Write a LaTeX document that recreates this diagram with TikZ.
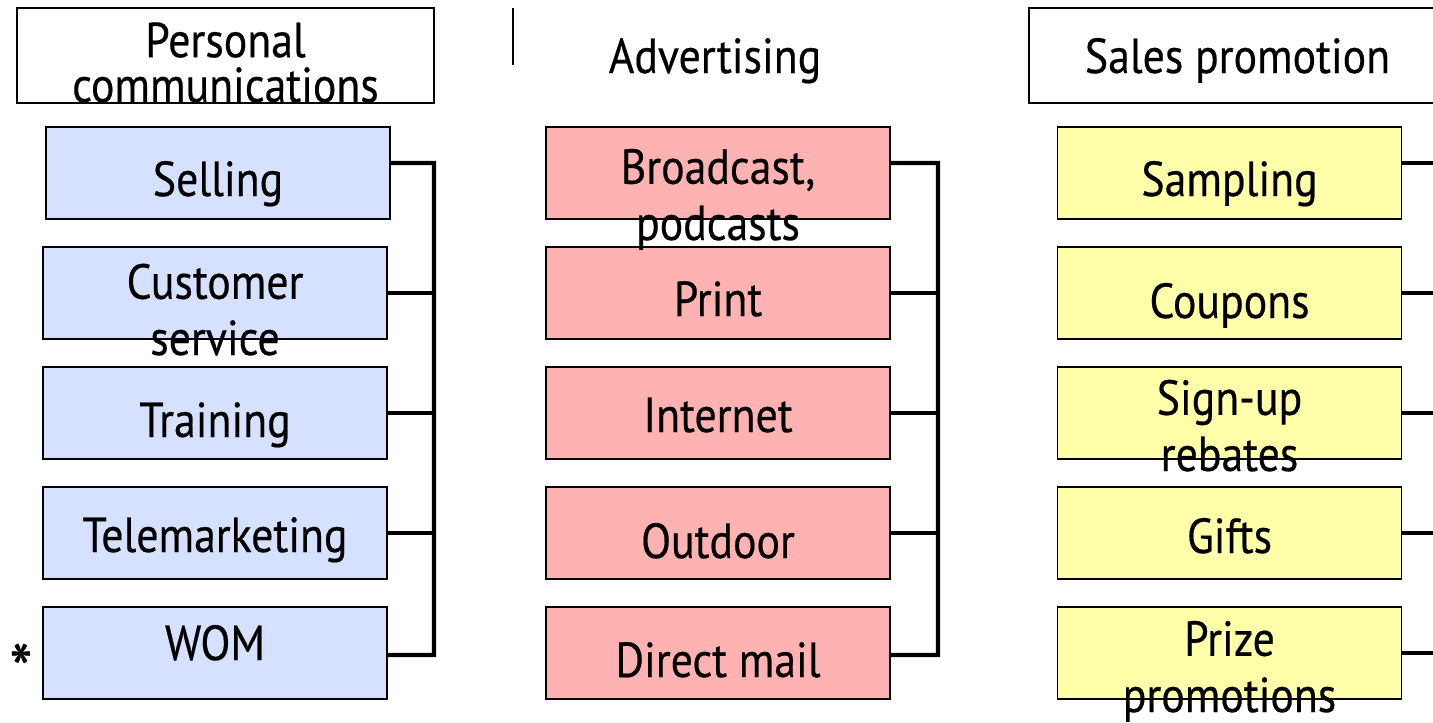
\documentclass[tikz,border=0pt]{standalone}
\usepackage{fontspec}
\setmainfont{PT Sans}[FakeStretch=0.89, FakeBold=0.4]
\usetikzlibrary{positioning}
\definecolor{pcblue}{RGB}{214,224,255}
\definecolor{adpink}{RGB}{255,178,178}
\definecolor{spyellow}{RGB}{255,255,170}

\begin{document}
\begin{tikzpicture}[node distance=2.4cm, on grid]

	\tikzset{
		hbox/.style = {rectangle, draw, line width=1pt, minimum width=8.34cm,
			minimum height=1.9cm, inner sep=0pt},
		tbox/.style = {rectangle, draw, line width=1pt, minimum width=6.88cm,
			minimum height=1.84cm, inner sep=0pt},
		ttext/.style = {font=\fontsize{28}{32}\selectfont, align=center,
			inner sep=0pt, anchor=base},
		link/.style = {line width=2.4pt}
	}

	\useasboundingbox (0,0) rectangle (28.66,-14.46);

	% headers
	\node[hbox] (pc) at (4.51,-1.11) {};
	\node[ttext, font=\fontsize{28}{25.5}\selectfont, yshift=-0.93cm] (pc-t) at (pc) {Personal\\communications};
	\coordinate (sep-top) at (10.26,-0.16);
	\coordinate (sep-bot) at (10.26,-1.30);
	\draw[line width=1pt] (sep-top) -- (sep-bot);
	\node[ttext] (ad-t) at (14.30,-1.46) {Advertising};
	\node[hbox] (sp) at (24.75,-1.11) {};
	\node[ttext] (sp-t) at (24.75,-1.46) {Sales promotion};

	% personal communications
	\node[tbox, fill=pcblue] (sell) at (4.36,-3.46) {};
	\node[tbox, fill=pcblue] (cust) [below = of sell, xshift=-0.06cm] {};
	\node[tbox, fill=pcblue] (train) [below = of cust] {};
	\node[tbox, fill=pcblue] (tele) [below = of train] {};
	\node[tbox, fill=pcblue] (wom) [below = of tele] {};
	\node[ttext, yshift=-0.46cm] (sell-t) at (sell) {Selling};
	\node[ttext, yshift=-1.24cm] (cust-t) at (cust) {Customer\\service};
	\node[ttext, yshift=-0.48cm] (train-t) at (train) {Training};
	\node[ttext, yshift=-0.38cm] (tele-t) at (tele) {Telemarketing};
	\node[ttext, yshift=-0.14cm] (wom-t) at (wom) {WOM};
	\node[ttext, anchor=center, font=\fontsize{42}{42}\selectfont] (star) at (0.42,-13.40) {*};

	% advertising
	\node[tbox, fill=adpink] (bcast) at (14.36,-3.46) {};
	\node[tbox, fill=adpink] (print) [below = of bcast] {};
	\node[tbox, fill=adpink] (inet) [below = of print] {};
	\node[tbox, fill=adpink] (outd) [below = of inet] {};
	\node[tbox, fill=adpink] (dmail) [below = of outd] {};
	\node[ttext, yshift=-1.34cm] (bcast-t) at (bcast) {Broadcast,\\podcasts};
	\node[ttext, yshift=-0.46cm] (print-t) at (print) {Print};
	\node[ttext, yshift=-0.38cm] (inet-t) at (inet) {Internet};
	\node[ttext, yshift=-0.50cm] (outd-t) at (outd) {Outdoor};
	\node[ttext, yshift=-0.48cm] (dmail-t) at (dmail) {Direct mail};

	% sales promotion
	\node[tbox, fill=spyellow] (samp) at (24.59,-3.46) {};
	\node[tbox, fill=spyellow] (coup) [below = of samp] {};
	\node[tbox, fill=spyellow] (sign) [below = of coup] {};
	\node[tbox, fill=spyellow] (gift) [below = of sign] {};
	\node[tbox, fill=spyellow] (prize) [below = of gift] {};
	\node[ttext, yshift=-0.46cm] (samp-t) at (samp) {Sampling};
	\node[ttext, yshift=-0.50cm] (coup-t) at (coup) {Coupons};
	\node[ttext, yshift=-1.16cm] (sign-t) at (sign) {Sign-up\\rebates};
	\node[ttext, yshift=-0.40cm] (gift-t) at (gift) {Gifts};
	\node[ttext, yshift=-1.18cm] (prize-t) at (prize) {Prize\\promotions};

	% brackets
	\coordinate (pc-top) at (8.68,-3.26);
	\coordinate (pc-bot) at (8.68,-13.10);
	\draw[link] ([yshift=0.2cm]sell.east) -- (pc-top) -- (pc-bot) -- (wom.east |- pc-bot);
	\foreach \n in {cust, train, tele}
		\draw[link] (\n.east) -- (pc-top |- \n.east);

	\coordinate (ad-top) at (18.76,-3.26);
	\coordinate (ad-bot) at (18.76,-13.10);
	\draw[link] ([yshift=0.2cm]bcast.east) -- (ad-top) -- (ad-bot) -- (dmail.east |- ad-bot);
	\foreach \n in {print, inet, outd}
		\draw[link] (\n.east) -- (ad-top |- \n.east);

	\coordinate (sp-end) at (28.66,0);
	\coordinate (samp-out) at ([yshift=0.2cm]samp.east);
	\draw[link] (samp-out) -- (sp-end |- samp-out);
	\foreach \n in {coup, sign, gift, prize}
		\draw[link] (\n.east) -- (sp-end |- \n.east);

\end{tikzpicture}
\end{document}
